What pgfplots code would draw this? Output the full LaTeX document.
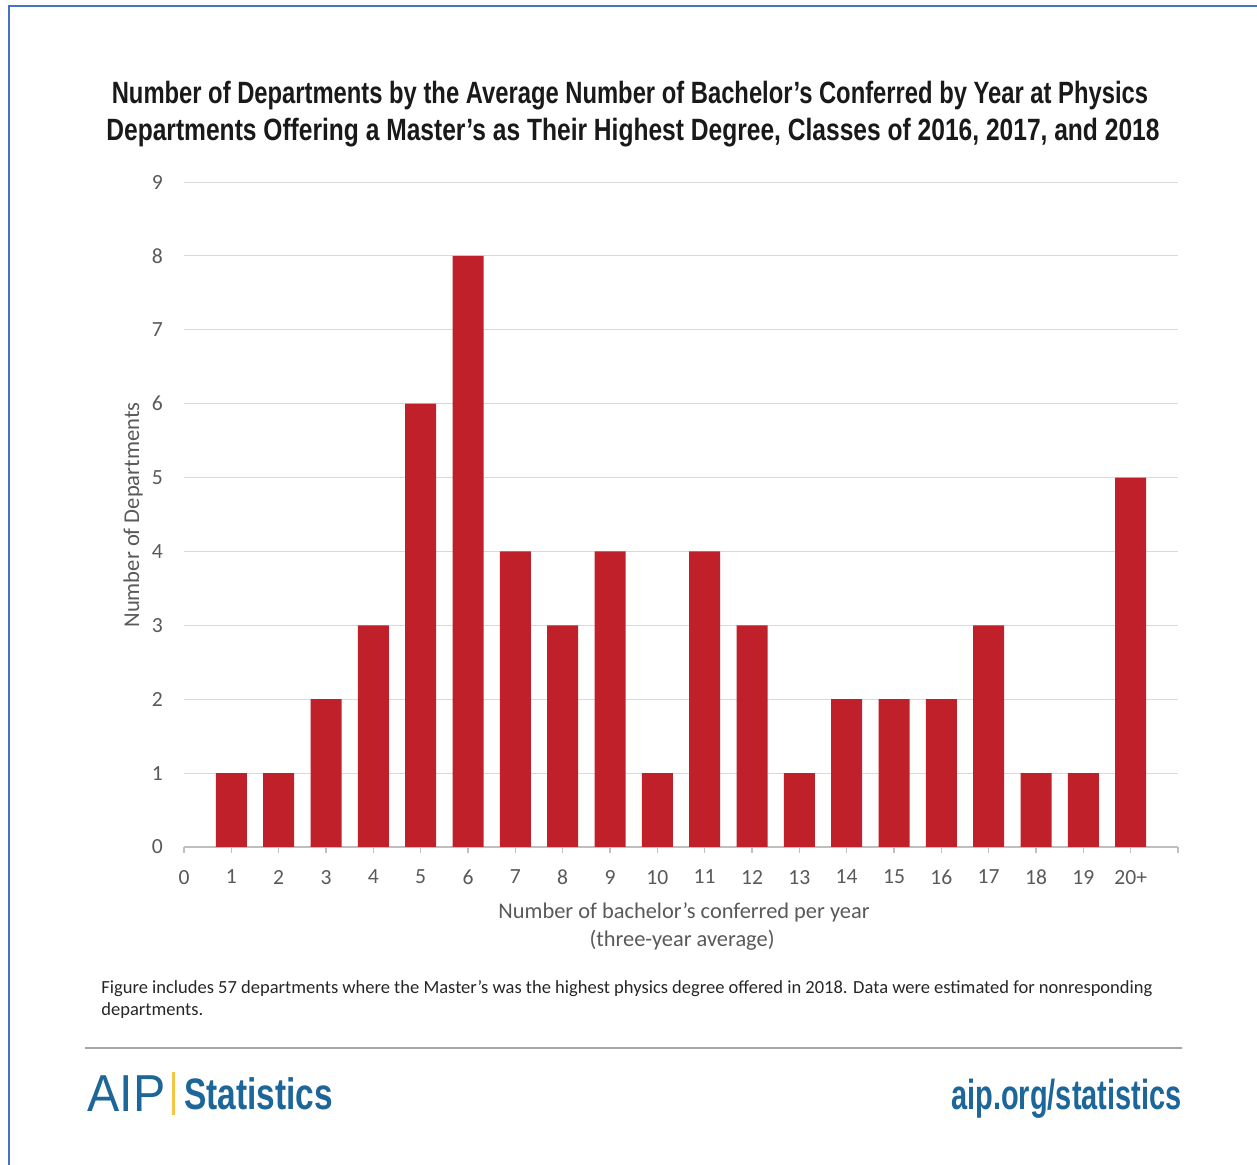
\documentclass[border=0pt]{standalone}
\usepackage{pgfplots}
\pgfplotsset{compat=1.18}
\usepackage{fontspec}
\setmainfont{Carlito}
\newfontfamily\titlefont[FakeStretch=0.798]{Liberation Sans}
\newfontfamily\titlefontA[FakeStretch=0.772]{Liberation Sans}
\newfontfamily\logofont[FakeStretch=0.76]{Liberation Sans}
\newfontfamily\aipfont[FakeStretch=0.93]{Liberation Sans}
\newfontfamily\urlfont[FakeStretch=0.69]{Liberation Sans}
\definecolor{barred}{HTML}{C0202A}
\definecolor{gridgray}{HTML}{D9D9D9}
\definecolor{axisgray}{HTML}{BFBFBF}
\definecolor{textgray}{HTML}{595959}
\definecolor{borderblue}{HTML}{4472C4}
\definecolor{aipblue}{HTML}{1C6699}
\definecolor{aipyellow}{HTML}{F7C544}
\definecolor{sepgray}{HTML}{A6A6A6}
\begin{document}
\begin{tikzpicture}[x=0.5pt,y=0.5pt]
\path[use as bounding box] (0,0) rectangle (1257,1165);
\draw[borderblue, line width=1pt] (9,0) -- (9,1159) -- (1257,1159);
\begin{axis}[
  at={(92pt,159pt)}, anchor=south west,
  scale only axis, width=497pt, height=332.5pt,
  xmin=0, xmax=21, ymin=0, ymax=9,
  ybar, bar width=15.5pt,
  axis x line=bottom, axis y line=left,
  x axis line style={-, draw=axisgray, line width=0.6pt},
  y axis line style={draw=none},
  xtick={0,1,2,3,4,5,6,7,8,9,10,11,12,13,14,15,16,17,18,19,20,21},
  xticklabels={0,1,2,3,4,5,6,7,8,9,10,11,12,13,14,15,16,17,18,19,20+,{}},
  ytick={0,1,2,3,4,5,6,7,8,9},
  tick align=outside,
  major tick length=3pt,
  x tick style={draw=axisgray, line width=0.6pt},
  y tick style={draw=none},
  ymajorgrids, grid style={draw=gridgray, line width=0.5pt},
  tick label style={font=\fontsize{10.8}{12}\selectfont, text=textgray},
  /pgf/number format/assume math mode=true,
  xticklabel style={yshift=-5pt},
  yticklabel style={xshift=-4pt},
]
\addplot[fill=barred, draw=none] coordinates {
(1,1) (2,1) (3,2) (4,3) (5,6) (6,8) (7,4) (8,3) (9,4) (10,1)
(11,4) (12,3) (13,1) (14,2) (15,2) (16,2) (17,3) (18,1) (19,1) (20,5)};
\end{axis}
\node[font=\titlefontA\bfseries\fontsize{15.4}{18.5}\selectfont, text=black!90] at (630,1069) {Number of Departments by the Average Number of Bachelor’s Conferred by Year at Physics};
\node[font=\titlefont\bfseries\fontsize{15.4}{18.5}\selectfont, text=black!90] at (633,1032) {Departments Offering a Master’s as Their Highest Degree, Classes of 2016, 2017, and 2018};
\node[rotate=90, font=\fontsize{11.3}{12}\selectfont, text=textgray] at (133,650) {Number of Departments};
\node[font=\fontsize{11.2}{12}\selectfont, text=textgray] at (684,253) {Number of bachelor’s conferred per year};
\node[font=\fontsize{11.2}{12}\selectfont, text=textgray] at (682,225) {(three-year average)};
\node[anchor=west, font=\fontsize{9.25}{10}\selectfont, text=black!85, inner sep=0pt] at (101,176) {Figure includes 57 departments where the Master’s was the highest physics degree offered in 2018. Data were estimated for nonresponding};
\node[anchor=west, font=\fontsize{9.25}{10}\selectfont, text=black!85, inner sep=0pt] at (101,154) {departments.};
\draw[sepgray, line width=1pt] (85,117) -- (1182,117);
\node[anchor=base west, inner sep=0pt, font=\aipfont\fontsize{26}{30}\selectfont, text=aipblue] at (87,53) {AIP};
\fill[aipyellow] (172,50) rectangle (175,93);
\node[anchor=base west, inner sep=0pt, font=\logofont\bfseries\fontsize{22}{26}\selectfont, text=aipblue] at (184,55) {Statistics};
\node[anchor=base east, inner sep=0pt, font=\urlfont\bfseries\fontsize{21}{26}\selectfont, text=aipblue] at (1182,55) {aip.org/statistics};
\end{tikzpicture}
\end{document}
